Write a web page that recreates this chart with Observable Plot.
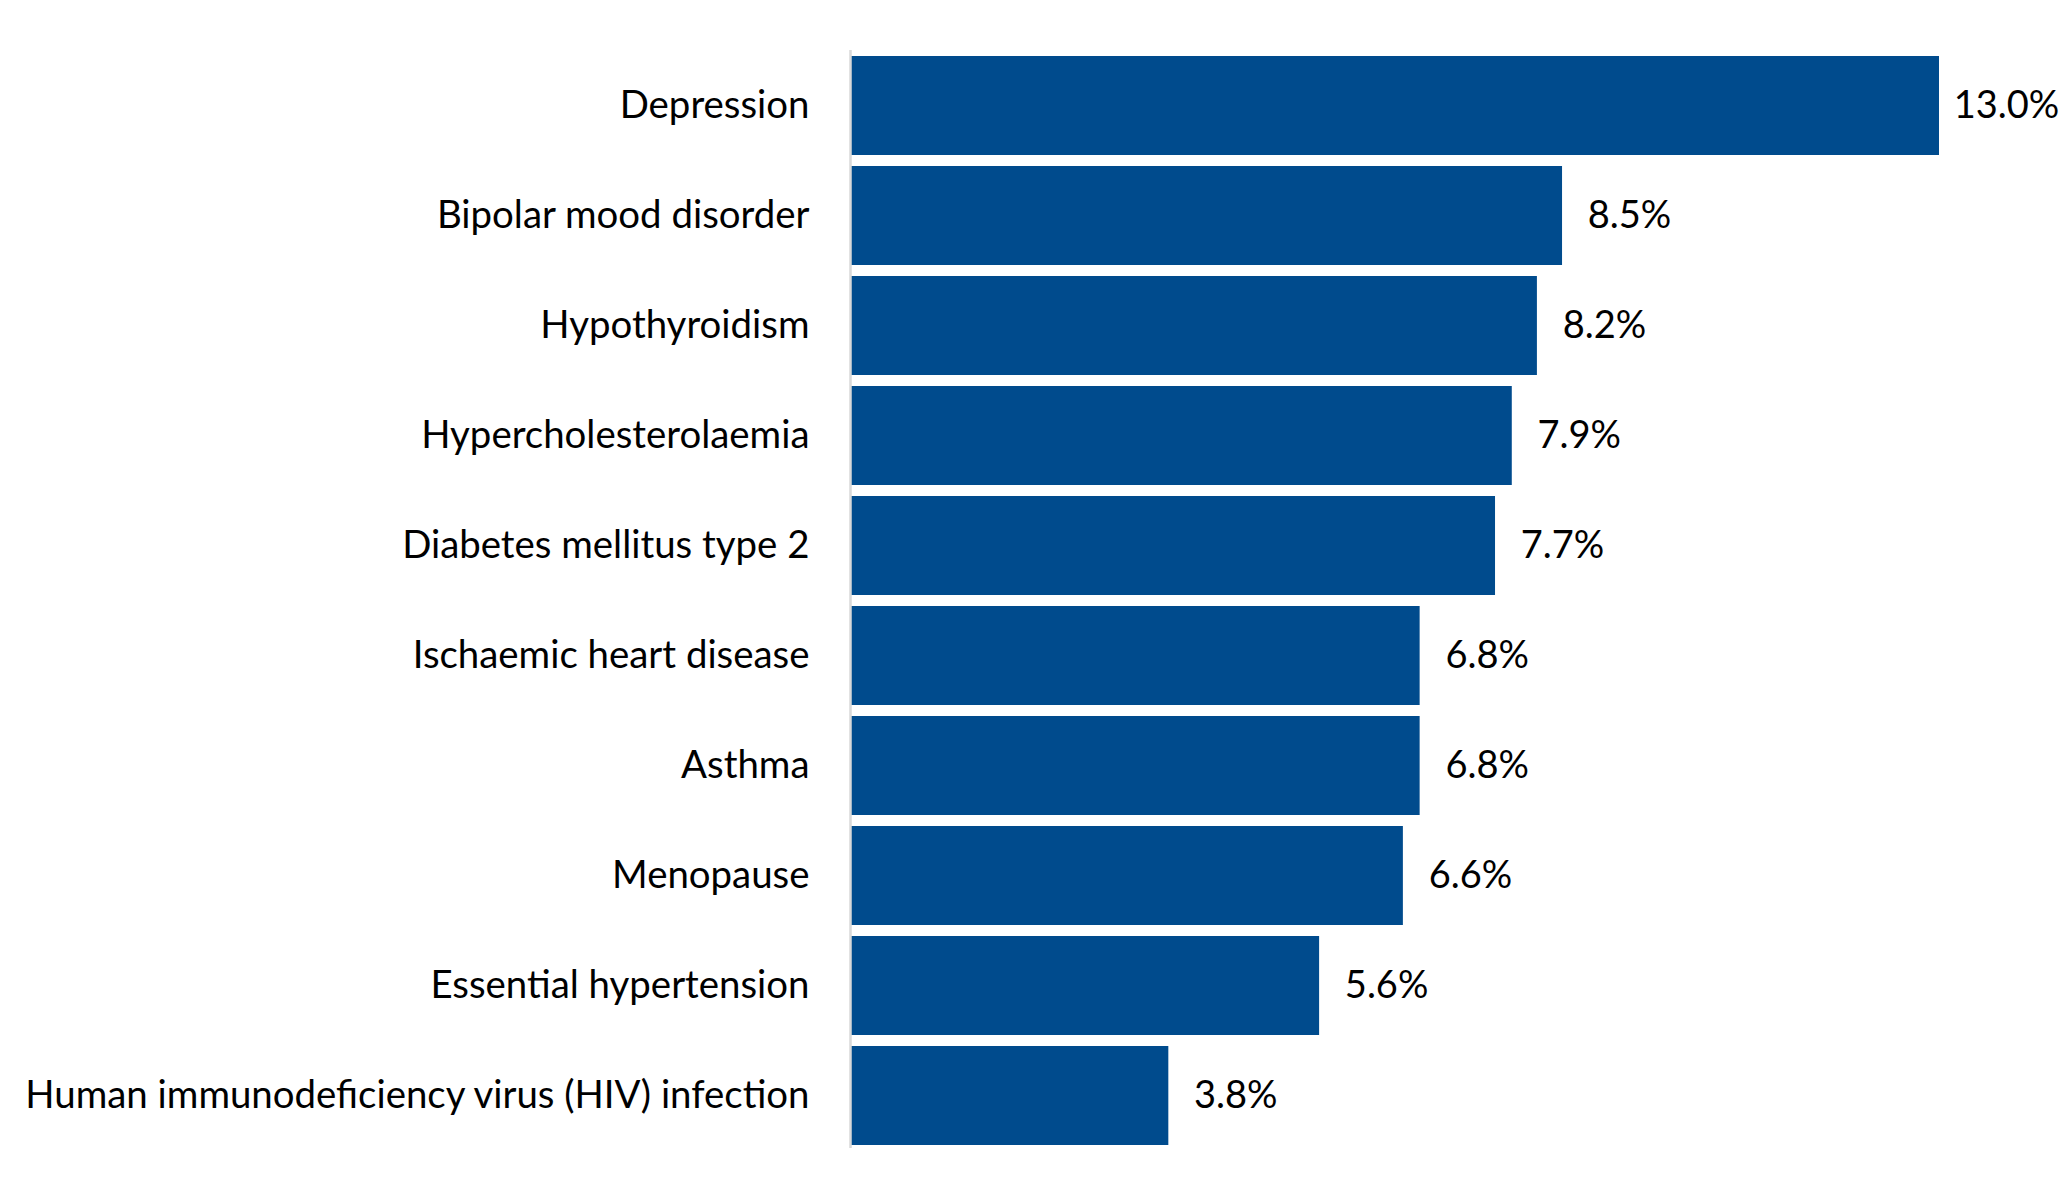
<!DOCTYPE html>
<html>
<head>
<meta charset="utf-8">
<script src="https://cdn.jsdelivr.net/npm/d3@7"></script>
<script src="https://cdn.jsdelivr.net/npm/@observablehq/plot@0.6"></script>
<style>
  html, body { margin: 0; padding: 0; background: #ffffff; }
  #chart { width: 2070px; height: 1199px; }
</style>
</head>
<body>
<div id="chart"></div>
<script>
const conditions = [
  "Depression",
  "Bipolar mood disorder",
  "Hypothyroidism",
  "Hypercholesterolaemia",
  "Diabetes mellitus type 2",
  "Ischaemic heart disease",
  "Asthma",
  "Menopause",
  "Essential hypertension",
  "Human immunodeficiency virus (HIV) infection"
];
const percents = [13.0, 8.5, 8.2, 7.9, 7.7, 6.8, 6.8, 6.6, 5.6, 3.8];

const data = conditions.map((c, i) => ({condition: c, value: percents[i]}));
const FONT = "Lato, 'Noto Sans', sans-serif";

const chart = Plot.plot({
  width: 2070,
  height: 1199,
  marginLeft: 850,
  marginRight: 131,
  marginTop: 44,
  marginBottom: 43,
  style: {fontFamily: FONT, fontSize: "38px", color: "#000000", background: "#ffffff"},
  x: {domain: [0, d3.max(percents)], axis: null},
  y: {domain: conditions, padding: 0.1, label: null},
  marks: [
    Plot.barX(data, {x: "value", y: "condition", fill: "#004b8d"}),
    Plot.ruleX([0], {stroke: "#d9d9d9", strokeWidth: 2.5, insetTop: 6, insetBottom: 8}),
    Plot.axisY({tickSize: 0, tickPadding: 41, fontSize: 38.4, fill: "#000000", label: null}),
    Plot.text(data, {
      x: "value", y: "condition",
      text: d => d.value.toFixed(1) + "%",
      dx: 67, textAnchor: "middle", fontSize: 38, fill: "#000000"
    })
  ]
});
document.getElementById("chart").appendChild(chart);
</script>
</body>
</html>
